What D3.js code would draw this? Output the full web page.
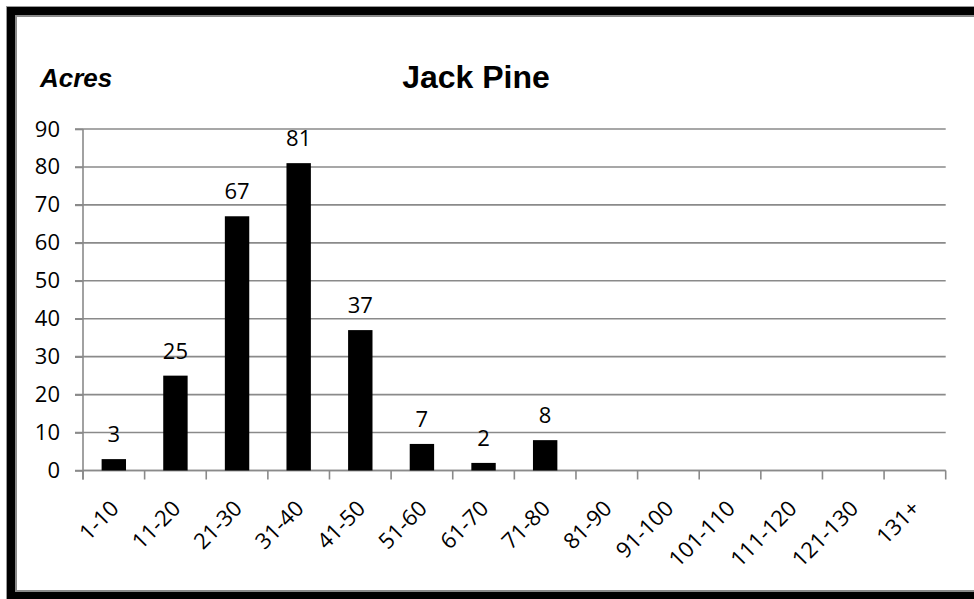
<!DOCTYPE html>
<html>
<head>
<meta charset="utf-8">
<script src="https://cdn.jsdelivr.net/npm/d3@7/dist/d3.min.js"></script>
<style>
  html, body { margin: 0; padding: 0; background: #fff; }
  svg { display: block; }
</style>
</head>
<body>
<svg id="chart" width="974" height="599"></svg>
<script>
// Acreage by stand age class
const categories = ["1-10", "11-20", "21-30", "31-40", "41-50", "51-60", "61-70",
                    "71-80", "81-90", "91-100", "101-110", "111-120", "121-130", "131+"];
const acres = [3, 25, 67, 81, 37, 7, 2, 8, null, null, null, null, null, null];
const yTicks = [0, 10, 20, 30, 40, 50, 60, 70, 80, 90];
const chartTitle = "Jack Pine";
const yAxisTitle = "Acres";

const svg = d3.select("#chart");
const W = 974, H = 599;
const gridColor = "#8a8a8a";
const numFont = "'Open Sans', 'Noto Sans', sans-serif";

// Frame: thick black border with grey edges
svg.append("rect").attr("x", 6.5).attr("y", 6.5).attr("width", W + 20).attr("height", H + 20)
  .attr("fill", "#000").attr("stroke", "#9a9a9a").attr("stroke-width", 1);
svg.append("rect").attr("x", 16).attr("y", 16).attr("width", W + 20).attr("height", 575)
  .attr("fill", "#fff").attr("stroke", gridColor).attr("stroke-width", 2);

const plot = { left: 83, right: 945.7, top: 129, bottom: 470.5 };

const x = d3.scaleBand()
  .domain(categories)
  .range([plot.left, plot.right])
  .paddingInner(0.604)
  .paddingOuter(0.302);

const y = d3.scaleLinear().domain([0, 90]).range([plot.bottom, plot.top]);

// Horizontal gridlines
svg.append("g")
  .selectAll("line")
  .data(yTicks)
  .join("line")
  .attr("x1", plot.left - 8).attr("x2", plot.right)
  .attr("y1", d => y(d)).attr("y2", d => y(d))
  .attr("stroke", gridColor).attr("stroke-width", 1.6);

// Y axis
const yAxis = svg.append("g")
  .attr("transform", `translate(${plot.left},0)`)
  .call(d3.axisLeft(y).tickValues(yTicks).tickSize(8).tickPadding(15).tickFormat(d3.format("d")));
yAxis.select(".domain").attr("stroke", gridColor).attr("stroke-width", 1.6)
  .attr("d", `M0,${plot.top}V${plot.bottom + 9}`);
yAxis.selectAll(".tick line").attr("stroke", gridColor).attr("stroke-width", 1.6);
yAxis.selectAll(".tick text")
  .attr("fill", "#000").style("font-family", numFont).style("font-size", "22px");

// X axis: category boundary ticks
const step = x.step();
const boundaries = d3.range(categories.length + 1).map(i => plot.left + i * step);
svg.append("line")
  .attr("x1", plot.left).attr("x2", plot.right)
  .attr("y1", plot.bottom).attr("y2", plot.bottom)
  .attr("stroke", gridColor).attr("stroke-width", 1.6);
svg.append("g")
  .selectAll("line")
  .data(boundaries)
  .join("line")
  .attr("x1", d => d).attr("x2", d => d)
  .attr("y1", plot.bottom).attr("y2", plot.bottom + 9)
  .attr("stroke", gridColor).attr("stroke-width", 1.6);

// Rotated category labels
svg.append("g")
  .selectAll("text")
  .data(categories)
  .join("text")
  .attr("transform", d => `translate(${x(d) + x.bandwidth() / 2 + 1},${plot.bottom + 34}) rotate(-45)`)
  .attr("text-anchor", "end")
  .attr("dy", "0.35em")
  .style("font-family", numFont).style("font-size", "22px")
  .attr("fill", "#000")
  .text(d => d);

// Bars
const rows = categories.map((c, i) => ({ cat: c, value: acres[i] })).filter(d => d.value != null);
svg.append("g")
  .selectAll("rect")
  .data(rows)
  .join("rect")
  .attr("x", d => x(d.cat))
  .attr("y", d => y(d.value))
  .attr("width", x.bandwidth())
  .attr("height", d => y(0) - y(d.value))
  .attr("fill", "#000");

// Value labels
svg.append("g")
  .selectAll("text")
  .data(rows)
  .join("text")
  .attr("x", d => x(d.cat) + x.bandwidth() / 2)
  .attr("y", d => y(d.value) - 17)
  .attr("text-anchor", "middle")
  .style("font-family", numFont).style("font-size", "22px")
  .attr("fill", "#000")
  .text(d => d.value);

// Titles
svg.append("text")
  .attr("x", 476).attr("y", 88)
  .attr("text-anchor", "middle")
  .style("font-family", "'Liberation Sans', Arial, sans-serif")
  .style("font-size", "32px").style("font-weight", "bold")
  .attr("fill", "#000")
  .text(chartTitle);

svg.append("text")
  .attr("x", 40).attr("y", 87)
  .style("font-family", "'Liberation Sans', Arial, sans-serif")
  .style("font-size", "26px").style("font-weight", "bold").style("font-style", "italic")
  .attr("fill", "#000")
  .text(yAxisTitle);
</script>
</body>
</html>
